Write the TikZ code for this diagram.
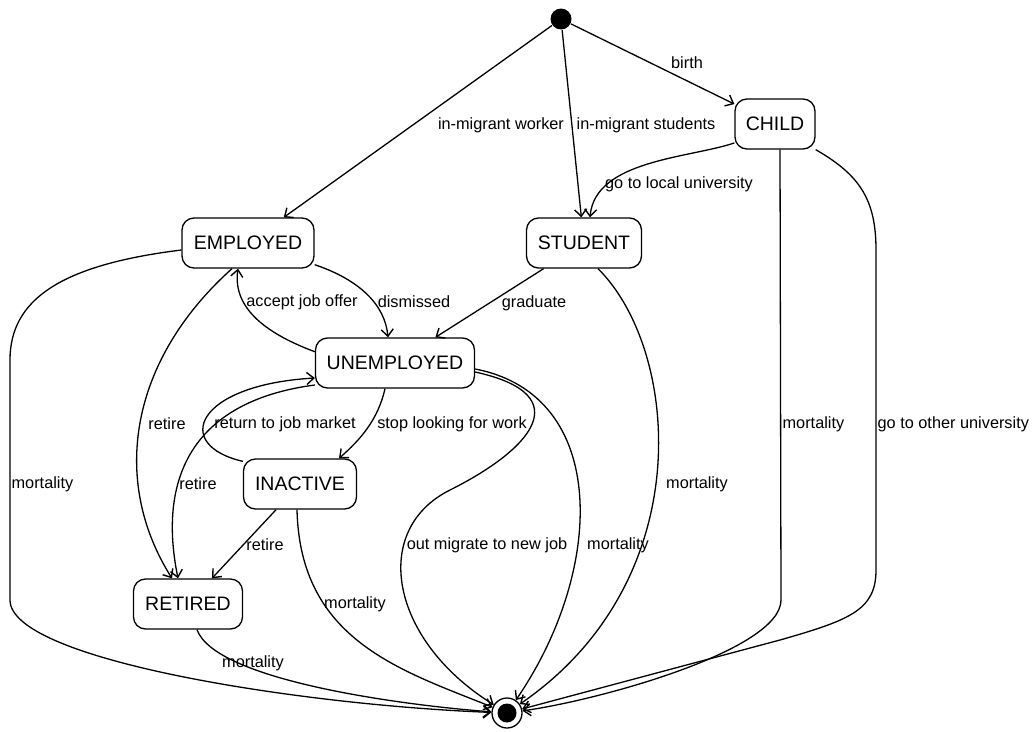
\documentclass[tikz,border=0pt]{standalone}
\usepackage{fontspec}
\setmainfont{Liberation Sans}
\usetikzlibrary{arrows.meta}
\begin{document}
\begin{tikzpicture}[x=1pt,y=-1pt,
  line width=1.3pt,
  state/.style={draw, rounded corners=12pt, minimum height=50pt, inner sep=0pt,
    font=\fontsize{19.5}{22}\selectfont},
  lbl/.style={font=\fontsize{16.3}{18}\selectfont, inner sep=0pt},
  tr/.style={draw, -{Straight Barb[length=7pt,width=12pt,line width=1.4pt]}}]
\useasboundingbox (0,0) rectangle (1035,731);

% states
\node[circle, fill, minimum size=21pt, inner sep=0pt] (init) at (561,19) {};
\node[state, minimum width=80pt]  (child) at (775,124) {CHILD};
\node[state, minimum width=132pt] (emp)   at (248,243) {EMPLOYED};
\node[state, minimum width=115pt] (stu)   at (584,243) {STUDENT};
\node[state, minimum width=159pt] (unemp) at (395,363) {UNEMPLOYED};
\node[state, minimum width=113pt] (inact) at (300,484) {INACTIVE};
\node[state, minimum width=109pt] (ret)   at (188,604) {RETIRED};
\node[circle, draw, fill=white, minimum size=30pt, inner sep=0pt] (fin) at (507,713) {};
\fill (fin.center) circle (9.5pt);

% arrivals
\draw[tr] (init) -- (child);
\draw[tr] (init) -- (emp);
\draw[tr] (init) -- (stu);
\draw[tr] (child.205) .. controls (690,158) and (595,160) .. ([xshift=6pt]stu.north);

% between employment states
\draw[tr] (emp.-18) .. controls (360,280) and (385,305) .. ([xshift=-7pt]unemp.north);
\draw[tr] (unemp.172) .. controls (270,335) and (232,310) .. ([xshift=-10pt]emp.south);
\draw[tr] (stu) -- (unemp);
\draw[tr] ([xshift=-10pt]unemp.south) .. controls (378,420) and (360,440) .. ([xshift=39pt]inact.north);
\draw[tr] ([yshift=-3pt]inact.north west) .. controls (172,445) and (195,385) .. ([yshift=-15pt]unemp.west);
\draw[tr] ([yshift=-22pt]unemp.west) .. controls (200,400) and (156,470) .. ([xshift=-10pt]ret.north);
\draw[tr] ([xshift=-16pt]emp.south) .. controls (130,360) and (110,480) .. ([xshift=-16pt]ret.north);
\draw[tr] (inact) -- (ret);

% exits
\draw[tr] (emp.186) .. controls (60,265) and (10,300) .. (10,360) -- (10,600)
  .. controls (10,660) and (300,705) .. (fin);
\draw[tr] ([xshift=9pt]ret.south) .. controls (215,680) and (400,705) .. (fin);
\draw[tr] ([xshift=-3pt]inact.south) .. controls (300,640) and (400,670) .. (fin);
\draw[tr] ([yshift=-9pt]unemp.east) .. controls (580,395) and (530,450) .. (450,490)
  .. controls (370,530) and (390,640) .. (fin);
\draw[tr] ([yshift=-6pt]unemp.east) .. controls (610,395) and (605,570) .. (fin);
\draw[tr] ([xshift=14pt]stu.south) .. controls (680,350) and (700,580) .. (fin);
\draw[tr] ([xshift=5pt]child.south) -- (781,600) .. controls (781,650) and (600,700) .. (fin);
\draw[tr] (child.south east) .. controls (860,175) and (876,200) .. (876,250) -- (876,570)
  .. controls (876,610) and (850,620) .. (780,640) -- (fin);

% transition labels
\node[lbl] (l1)  at (687,63)  {birth};
\node[lbl] (l2)  at (501,125) {in-migrant worker};
\node[lbl] (l3)  at (646,125) {in-migrant students};
\node[lbl] (l4)  at (679,184) {go to local university};
\node[lbl] (l5)  at (414,302) {dismissed};
\node[lbl] (l6)  at (302,302) {accept job offer};
\node[lbl] (l7)  at (534,303) {graduate};
\node[lbl] (l8)  at (452,424) {stop looking for work};
\node[lbl] (l9)  at (285,424) {return to job market};
\node[lbl] (l10) at (167,424) {retire};
\node[lbl] (l11) at (198,484) {retire};
\node[lbl] (l12) at (265,545) {retire};
\node[lbl, anchor=west] (l13) at (11,484) {mortality};
\node[lbl] (l14) at (253,663) {mortality};
\node[lbl] (l15) at (355,604) {mortality};
\node[lbl] (l16) at (487,545) {out migrate to new job};
\node[lbl] (l17) at (618,545) {mortality};
\node[lbl] (l18) at (697,484) {mortality};
\node[lbl, anchor=west] (l19) at (782,424) {mortality};
\node[lbl, anchor=west] (l20) at (877,424) {go to other university};
\end{tikzpicture}
\end{document}
